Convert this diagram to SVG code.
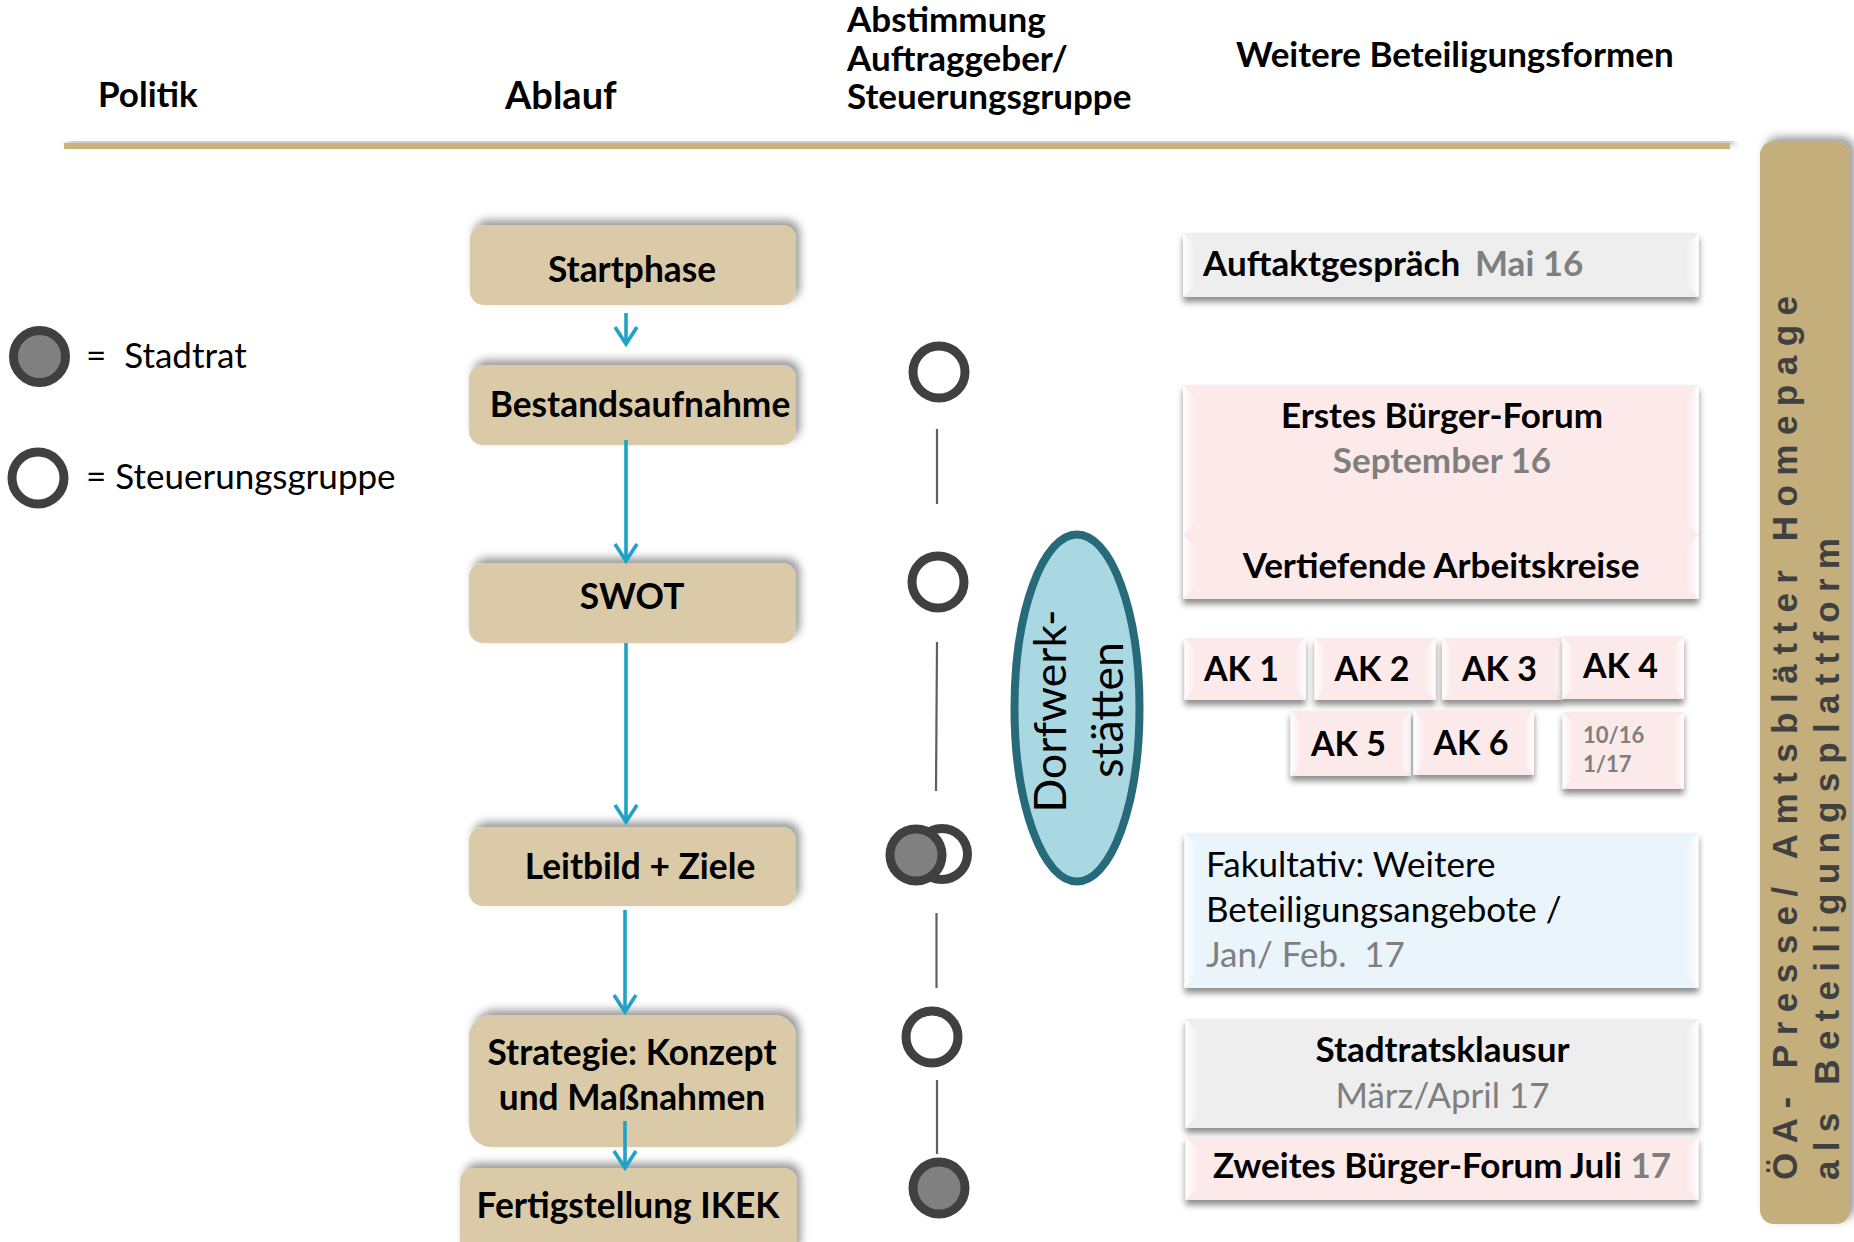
<svg xmlns="http://www.w3.org/2000/svg" width="1854" height="1242" viewBox="0 0 1854 1242">
<defs>
<style>
text{font-family:Lato,"Noto Sans",sans-serif;}
.b{font-weight:700;}
.hd{font-size:35px;font-weight:700;fill:#000;}
.bx{font-size:35.3px;font-weight:700;fill:#000;}
.rt{font-size:35px;font-weight:700;fill:#000;}
.ak{font-size:34px;font-weight:700;fill:#000;}
.rg{font-size:35px;font-weight:400;fill:#000;}
.gr{fill:#7f7f7f;}
.tan{fill:#dacaa7;}
.pink{fill:#fce9e9;}
.gray{fill:#eeeeee;}
.blue{fill:#eaf4fb;}
.ring{fill:#fff;stroke:#404040;stroke-width:9;}
.dot{fill:#808080;stroke:#404040;stroke-width:9;}
.vl{stroke:#5f5f5f;stroke-width:2.2;fill:none;}
.ar{stroke:#1fa2c6;stroke-width:3.6;fill:none;marker-end:url(#ah);}
.bvl{fill:url(#gL);}
.bvr{fill:url(#gR);}
.bar{font-family:"Liberation Sans",Arial,sans-serif;font-size:35px;font-weight:700;fill:#404040;}
</style>
<marker id="ah" viewBox="-20 -14 23 28" refX="0" refY="0" markerWidth="23" markerHeight="28" markerUnits="userSpaceOnUse" orient="auto">
<path d="M-17,-11 L0,0 L-17,11" fill="none" stroke="#1fa2c6" stroke-width="3.6"/>
</marker>
<filter id="shTR" x="-10%" y="-30%" width="125%" height="160%">
<feDropShadow dx="4" dy="-5" stdDeviation="4" flood-color="#000" flood-opacity="0.4"/>
</filter>
<filter id="shB" x="-5%" y="-20%" width="110%" height="160%">
<feDropShadow dx="0" dy="5" stdDeviation="3" flood-color="#000" flood-opacity="0.45"/>
</filter>
<filter id="shBar" x="-20%" y="-5%" width="150%" height="110%">
<feDropShadow dx="5" dy="-4" stdDeviation="4" flood-color="#000" flood-opacity="0.4"/>
</filter>
<linearGradient id="gL" x1="0" y1="0" x2="1" y2="0">
<stop offset="0" stop-color="#fff" stop-opacity="0.95"/>
<stop offset="1" stop-color="#fff" stop-opacity="0.1"/>
</linearGradient>
<linearGradient id="gR" x1="1" y1="0" x2="0" y2="0">
<stop offset="0" stop-color="#fff" stop-opacity="0.95"/>
<stop offset="1" stop-color="#fff" stop-opacity="0.1"/>
</linearGradient>
</defs>
<rect width="1854" height="1242" fill="#fff"/>

<g id="header">
<text class="hd" x="98" y="107">Politik</text>
<text class="hd" x="505" y="109" style="font-size:38px">Ablauf</text>
<text class="hd" x="847" y="32">Abstimmung</text>
<text class="hd" x="847" y="71">Auftraggeber/</text>
<text class="hd" x="847" y="109">Steuerungsgruppe</text>
<text class="hd" x="1236" y="67">Weitere Beteiligungsformen</text>
<rect x="64" y="143" width="1666" height="6" fill="#c8b27d" filter="url(#shTR)"/>
</g>

<g id="legend">
<circle class="dot" cx="39.5" cy="356.5" r="26"/>
<text class="rg" x="86" y="368" xml:space="preserve">=  Stadtrat</text>
<circle class="ring" cx="38" cy="478" r="26"/>
<text class="rg" x="86" y="489">= Steuerungsgruppe</text>
</g>

<g id="startphase">
<rect class="tan" x="470" y="225" width="326" height="80" rx="14" filter="url(#shTR)"/>
<text class="bx" x="632" y="282" text-anchor="middle">Startphase</text>
</g>
<g id="bestandsaufnahme">
<rect class="tan" x="469" y="365" width="327" height="80" rx="14" filter="url(#shTR)"/>
<text class="bx" x="640" y="417" text-anchor="middle">Bestandsaufnahme</text>
</g>
<g id="swot">
<rect class="tan" x="469" y="563" width="327" height="80" rx="14" filter="url(#shTR)"/>
<text class="bx" x="632" y="609" text-anchor="middle">SWOT</text>
</g>
<g id="leitbild">
<rect class="tan" x="469" y="827" width="327" height="79" rx="14" filter="url(#shTR)"/>
<text class="bx" x="640" y="879" text-anchor="middle">Leitbild + Ziele</text>
</g>
<g id="strategie">
<rect class="tan" x="469" y="1015" width="327" height="132" rx="22" filter="url(#shTR)"/>
<text class="bx" x="632" y="1065" text-anchor="middle">Strategie: Konzept</text>
<text class="bx" x="632" y="1110" text-anchor="middle">und Maßnahmen</text>
</g>
<g id="fertigstellung">
<rect class="tan" x="460" y="1168" width="337" height="90" rx="14" filter="url(#shTR)"/>
<text class="bx" x="628" y="1218" text-anchor="middle">Fertigstellung IKEK</text>
</g>

<g id="steuerung-markers">
<circle class="ring" cx="939" cy="372" r="26"/>
<circle class="ring" cx="938" cy="582" r="26"/>
<circle class="ring" cx="942" cy="854" r="25.5"/>
<circle class="dot" cx="916" cy="855" r="26"/>
<circle class="ring" cx="932" cy="1037" r="26"/>
<circle class="dot" cx="939" cy="1188" r="26"/>
</g>

<g id="dorfwerkstaetten">
<ellipse cx="1077" cy="708" rx="62.5" ry="173.5" fill="#a9d8e2" stroke="#276b7b" stroke-width="8"/>
<text transform="translate(1066,711) rotate(-90)" text-anchor="middle" style="font-size:44.5px">Dorfwerk-</text>
<text transform="translate(1123,710) rotate(-90)" text-anchor="middle" style="font-size:44.5px">stätten</text>
</g>

<g id="auftakt">
<g filter="url(#shB)"><rect class="gray" x="1183" y="233" width="516" height="64"/></g>
<polygon class="bvl" points="1183,233 1195,245 1195,285 1183,297"/>
<polygon class="bvr" points="1699,233 1687,245 1687,285 1699,297"/>
<text class="rt" x="1203" y="276">Auftaktgespräch<tspan class="gr" x="1475">Mai 16</tspan></text>
</g>

<g id="buergerforum1">
<g filter="url(#shB)">
<rect class="pink" x="1183" y="385" width="516" height="150"/>
<rect class="pink" x="1183" y="535" width="516" height="64"/>
</g>
<polygon class="bvl" points="1183,385 1195,397 1195,523 1183,535"/>
<polygon class="bvr" points="1699,385 1687,397 1687,523 1699,535"/>
<text class="rt" x="1442" y="428" text-anchor="middle">Erstes Bürger-Forum</text>
<text class="rt gr" x="1442" y="473" text-anchor="middle">September 16</text>
</g>
<g id="arbeitskreise">
<polygon class="bvl" points="1183,535 1195,547 1195,587 1183,599"/>
<polygon class="bvr" points="1699,535 1687,547 1687,587 1699,599"/>
<text class="rt" x="1441" y="578" text-anchor="middle">Vertiefende Arbeitskreise</text>
</g>

<g id="ak1">
<rect class="pink" x="1184.5" y="638" width="121" height="62" filter="url(#shB)"/>
<polygon class="bvl" points="1184.5,638 1194.5,648 1194.5,690 1184.5,700"/>
<polygon class="bvr" points="1305.5,638 1295.5,648 1295.5,690 1305.5,700"/>
<text class="ak" x="1204" y="681">AK 1</text>
</g>
<g id="ak2">
<rect class="pink" x="1314.5" y="638" width="121" height="62" filter="url(#shB)"/>
<polygon class="bvl" points="1314.5,638 1324.5,648 1324.5,690 1314.5,700"/>
<polygon class="bvr" points="1435.5,638 1425.5,648 1425.5,690 1435.5,700"/>
<text class="ak" x="1334.5" y="681">AK 2</text>
</g>
<g id="ak3">
<rect class="pink" x="1442" y="638" width="121" height="62" filter="url(#shB)"/>
<polygon class="bvl" points="1442,638 1452,648 1452,690 1442,700"/>
<polygon class="bvr" points="1563,638 1553,648 1553,690 1563,700"/>
<text class="ak" x="1462" y="681">AK 3</text>
</g>
<g id="ak4">
<rect class="pink" x="1562.5" y="636" width="121.5" height="63" filter="url(#shB)"/>
<polygon class="bvl" points="1562.5,636 1572.5,646 1572.5,689 1562.5,699"/>
<polygon class="bvr" points="1684,636 1674,646 1674,689 1684,699"/>
<text class="ak" x="1583" y="678">AK 4</text>
</g>
<g id="ak5">
<rect class="pink" x="1290.5" y="711" width="120.5" height="65" filter="url(#shB)"/>
<polygon class="bvl" points="1290.5,711 1300.5,721 1300.5,766 1290.5,776"/>
<polygon class="bvr" points="1411,711 1401,721 1401,766 1411,776"/>
<text class="ak" x="1311" y="756">AK 5</text>
</g>
<g id="ak6">
<rect class="pink" x="1413.5" y="710" width="120.5" height="65" filter="url(#shB)"/>
<polygon class="bvl" points="1413.5,710 1423.5,720 1423.5,765 1413.5,775"/>
<polygon class="bvr" points="1534,710 1524,720 1524,765 1534,775"/>
<text class="ak" x="1433.5" y="755">AK 6</text>
</g>
<g id="ak-termine">
<rect class="pink" x="1562.5" y="712" width="121.5" height="77" filter="url(#shB)"/>
<polygon class="bvl" points="1562.5,712 1572.5,722 1572.5,779 1562.5,789"/>
<polygon class="bvr" points="1684,712 1674,722 1674,779 1684,789"/>
<text class="gr b" x="1583" y="743" style="font-size:22px">10/16</text>
<text class="gr b" x="1583" y="772" style="font-size:22px">1/17</text>
</g>

<g id="fakultativ">
<rect class="blue" x="1184.5" y="833" width="514" height="155" filter="url(#shB)"/>
<polygon class="bvl" points="1184.5,833 1196.5,845 1196.5,976 1184.5,988"/>
<polygon class="bvr" points="1698.5,833 1686.5,845 1686.5,976 1698.5,988"/>
<text class="rg" x="1206" y="877">Fakultativ: Weitere</text>
<text class="rg" x="1206" y="922">Beteiligungsangebote /</text>
<text class="rg gr" x="1206" y="967" xml:space="preserve">Jan/ Feb.  17</text>
</g>

<g id="stadtratsklausur">
<rect class="gray" x="1185.5" y="1019" width="513" height="109" filter="url(#shB)"/>
<polygon class="bvl" points="1185.5,1019 1197.5,1031 1197.5,1116 1185.5,1128"/>
<polygon class="bvr" points="1698.5,1019 1686.5,1031 1686.5,1116 1698.5,1128"/>
<text class="rt" x="1442.5" y="1062" text-anchor="middle">Stadtratsklausur</text>
<text class="rg gr" x="1442.5" y="1108" text-anchor="middle">März/April 17</text>
</g>
<g id="buergerforum2">
<rect class="pink" x="1185.5" y="1137" width="513" height="63" filter="url(#shB)"/>
<polygon class="bvl" points="1185.5,1137 1197.5,1149 1197.5,1188 1185.5,1200"/>
<polygon class="bvr" points="1698.5,1137 1686.5,1149 1686.5,1188 1698.5,1200"/>
<text class="rt" x="1442" y="1178" text-anchor="middle">Zweites Bürger-Forum Juli <tspan class="gr">17</tspan></text>
</g>

<g id="oeffentlichkeitsarbeit">
<rect x="1760" y="141" width="90" height="1083" rx="14" fill="#c4ae7c" filter="url(#shBar)"/>
<text class="bar" transform="translate(1797,1180) rotate(-90)" textLength="884" lengthAdjust="spacing">ÖA- Presse/ Amtsblätter Homepage</text>
<text class="bar" transform="translate(1839,1180) rotate(-90)" textLength="642" lengthAdjust="spacing">als Beteiligungsplattform</text>
</g>

<g id="connectors">
<line class="ar" x1="626" y1="313" x2="626" y2="344"/>
<line class="ar" x1="626" y1="440" x2="626" y2="561"/>
<line class="ar" x1="626" y1="643" x2="626" y2="822"/>
<line class="ar" x1="625" y1="910" x2="625" y2="1012"/>
<line class="ar" x1="625" y1="1121" x2="625" y2="1168"/>
<line class="vl" x1="937" y1="429" x2="937" y2="504"/>
<line class="vl" x1="937" y1="642" x2="936" y2="791"/>
<line class="vl" x1="936.5" y1="913" x2="936.5" y2="988"/>
<line class="vl" x1="937" y1="1080" x2="937" y2="1154"/>
</g>
</svg>
